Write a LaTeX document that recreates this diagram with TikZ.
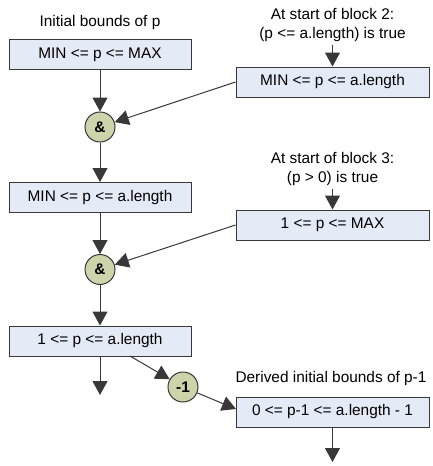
\documentclass[tikz,border=0pt]{standalone}
\usepackage{fontspec}
\setmainfont{Liberation Sans}
\usetikzlibrary{arrows.meta}
\definecolor{bndfill}{HTML}{E4EBF6}
\definecolor{opfill}{HTML}{CDD3AA}
\definecolor{linegray}{HTML}{383838}

\begin{document}
\begin{tikzpicture}[x=1pt,y=-1pt,
		font=\fontsize{15.4}{19}\selectfont,
		bnd/.style={draw=linegray,fill=bndfill,line width=1pt,minimum height=30pt,inner sep=0pt},
		op/.style={circle,draw=linegray,fill=opfill,line width=1pt,minimum size=30pt,inner sep=0pt,font=\fontsize{15.4}{19}\selectfont\bfseries},
		lbl/.style={align=center,inner sep=3pt},
		conn/.style={line width=1pt,draw=linegray,-{Triangle[width=15pt,length=14pt]}}]
		\useasboundingbox (0,0) rectangle (432,466);
		% left column: bounds of p
		\node[bnd,minimum width=182pt] (B1) at (100,54.5) {MIN <= p <= MAX};
		\node[op] (and1) at (100,127) {\&};
		\node[bnd,minimum width=182pt] (B2) at (100,197.5) {MIN <= p <= a.length};
		\node[op] (and2) at (100,269.5) {\&};
		\node[bnd,minimum width=182pt] (B3) at (100,341) {1 <= p <= a.length};
		\coordinate (out3) at (100,395);
		\coordinate (B3sub) at (130,356);
		\node[lbl] (L1) at (100,23) {Initial bounds of p};
		%
		% right column: facts from the blocks
		\node[bnd,minimum width=193pt] (BA) at (332.5,82) {MIN <= p <= a.length};
		\node[lbl,anchor=south] (LA) at (332.5,45) {At start of block 2:\\(p <= a.length) is true};
		\node[bnd,minimum width=193pt] (BB) at (332.5,225) {1 <= p <= MAX};
		\node[lbl,anchor=south] (LB) at (332.5,189) {At start of block 3:\\(p > 0) is true};
		%
		% p-1
		\node[op] (sub1) at (183,387) {-1};
		\node[bnd,minimum width=193pt] (B4) at (332.5,412) {0 <= p-1 <= a.length - 1};
		\node[lbl] (L4) at (331,379) {Derived initial bounds of p-1};
		\coordinate (out4) at (332.5,462);
		\coordinate (B4in) at (236,409);
		%
		\draw[conn] (B1) -- (and1);
		\draw[conn] (and1) -- (B2);
		\draw[conn] (B2) -- (and2);
		\draw[conn] (and2) -- (B3);
		\draw[conn] (B3) -- (out3);
		\draw[conn] (LA) -- (BA);
		\draw[conn] (LB) -- (BB);
		\draw[conn] (BA.west) -- (and1);
		\draw[conn] (BB.west) -- (and2);
		\draw[conn] (B3sub) -- (sub1);
		\draw[conn] (sub1) -- (B4in);
		\draw[conn] (B4) -- (out4);
\end{tikzpicture}
\end{document}
